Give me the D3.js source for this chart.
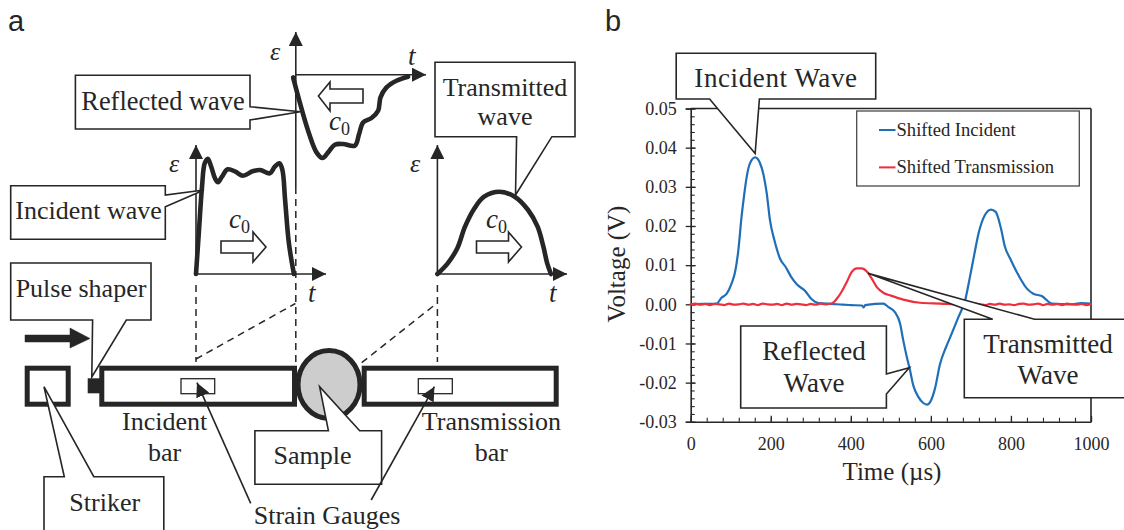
<!DOCTYPE html>
<html>
<head>
<meta charset="utf-8">
<script src="https://cdn.jsdelivr.net/npm/d3@7"></script>
<style>
  html, body { margin: 0; padding: 0; background: #fff; }
  svg { display: block; }
  text { font-family: "Liberation Serif", serif; fill: #262626; }
</style>
</head>
<body>
<svg width="1124" height="530"></svg>
<script>
// panel b readings
var incidentTime = [0, 30, 65, 77, 90, 102, 111, 119, 127, 134, 140, 148, 161, 173, 182, 190, 198, 209, 223, 238, 251, 265, 286, 301, 319, 352, 380, 400, 428, 432, 436, 460, 481, 494, 510, 523, 531, 540, 548, 556, 569, 581, 590, 600, 610, 623, 638, 652, 669, 686, 698, 708, 719, 735, 750, 762, 775, 785, 798, 819, 840, 856, 877, 902, 948, 975, 1000];
var incidentVolt = [0, 0.0001, 0.0002, 0.0017, 0.0027, 0.0053, 0.0083, 0.0138, 0.0223, 0.0283, 0.0326, 0.036, 0.0375, 0.0361, 0.033, 0.0283, 0.0215, 0.0164, 0.0117, 0.0094, 0.007, 0.0051, 0.0034, 0.0014, 0.0003, 0.0001, -0.0001, -0.0002, -0.0003, -0.0008, -0.0002, 0.0001, 0.0002, -0.0007, -0.002, -0.0049, -0.0092, -0.0135, -0.0169, -0.0207, -0.0237, -0.0252, -0.0256, -0.0246, -0.0216, -0.0152, -0.0109, -0.0075, -0.0032, 0.0012, 0.0072, 0.0125, 0.0181, 0.0228, 0.0242, 0.0236, 0.0194, 0.0147, 0.0117, 0.0074, 0.004, 0.0027, 0.0021, 0.0002, 0, 0.0003, 0.0002];
var transTime = [0, 12, 24, 36, 48, 60, 72, 84, 96, 108, 120, 132, 144, 156, 168, 180, 192, 204, 216, 228, 240, 252, 264, 276, 288, 300, 312, 324, 336, 345, 352, 365, 377, 390, 402, 415, 427, 440, 452, 465, 482, 498, 531, 573, 623, 673, 688, 700, 712, 724, 736, 748, 760, 772, 784, 796, 808, 820, 832, 844, 856, 868, 880, 892, 904, 916, 928, 940, 952, 964, 976, 988, 1000];
var transVolt = [0, 0.0002, -0.0001, 0.0001, -0.0002, 0.0001, 0, -0.0002, 0.0002, -0.0001, 0, 0.0002, -0.0001, 0.0001, -0.0002, 0.0002, 0, -0.0001, 0.0001, -0.0002, 0.0002, -0.0001, 0.0001, 0, -0.0002, 0.0001, -0.0001, 0.0002, 0, 0.0001, 0.0002, 0.0014, 0.0032, 0.0057, 0.0082, 0.0092, 0.0092, 0.0084, 0.0066, 0.0044, 0.0029, 0.0023, 0.0012, 0.0004, 0.0002, 0, 0.0001, -0.0001, 0.0002, 0, -0.0002, 0.0001, -0.0001, 0.0002, -0.0001, 0, -0.0002, 0.0001, 0.0002, -0.0001, 0, 0.0002, -0.0002, 0.0001, -0.0001, 0.0001, -0.0002, 0.0002, 0, -0.0001, 0.0001, -0.0002, 0.0001];
var xTicks = [0, 200, 400, 600, 800, 1000];
var yTicks = [-0.03, -0.02, -0.01, 0, 0.01, 0.02, 0.03, 0.04, 0.05];
var legendNames = ["Shifted Incident", "Shifted Transmission"];
var legendColors = ["#1f6fb8", "#ee2f3c"];

// panel a wave sketches, t and strain in sketch units
var waveInTime = [0, 3, 6, 8.7, 11.8, 15.2, 19, 22, 26, 31.7, 39.4, 47, 56.6, 64.2, 73.8, 78.8, 83.4, 86.4, 89.1, 92.9, 97.9];
var waveInStrain = [0, 44, 87, 110.7, 115.3, 107.3, 95.7, 91.7, 97.3, 104.7, 102.3, 98.3, 102.7, 104, 100.7, 107.3, 110.7, 104, 74, 30.7, 0];
var waveReTime = [-2.7, 4, 12.3, 20.7, 26.7, 32.3, 39, 47.3, 59, 63.3, 67.3, 75.7, 82.3, 84.7, 90.7, 100.7, 112.3];
var waveReStrain = [-2.7, -27.7, -56, -77.7, -83.3, -77.7, -70, -69.3, -71, -59.3, -47.7, -43.3, -36, -22.7, -12.7, -6, -2];
var waveTrTime = [0, 10.3, 19.9, 27.6, 37.1, 46.7, 62, 77.3, 90.7, 100.2, 106, 109.8, 113.6];
var waveTrStrain = [0, 10.7, 25.7, 47.3, 65.7, 77.3, 82.3, 77.3, 64, 47.3, 27.3, 10.7, 0];

var ink = "#262626";
var svg = d3.select("svg");
var g = svg.append("g");

g.append("defs").append("marker")
  .attr("id", "head")
  .attr("viewBox", "0 0 10 10").attr("refX", 10).attr("refY", 5)
  .attr("markerUnits", "userSpaceOnUse")
  .attr("markerWidth", 14).attr("markerHeight", 14)
  .attr("orient", "auto")
  .append("path").attr("d", "M0,0L10,5L0,10Z").attr("fill", ink);

function label(txt, x, y, size, anchor){
  return g.append("text").attr("x", x).attr("y", y)
    .attr("font-size", size)
    .attr("text-anchor", anchor || "middle")
    .text(txt);
}

function poly(pts, fill, width){
  return g.append("path")
    .attr("d", d3.line()(pts) + "Z")
    .attr("fill", fill || "#fff")
    .attr("stroke", ink)
    .attr("stroke-width", width || 1.6)
    .attr("stroke-linejoin", "miter");
}

function seg(x1, y1, x2, y2, width, dash){
  return g.append("line")
    .attr("x1", x1).attr("y1", y1).attr("x2", x2).attr("y2", y2)
    .attr("stroke", ink)
    .attr("stroke-width", width || 1.4)
    .attr("stroke-dasharray", dash || null);
}

function curve(t, v, x, y, color, width, gen){
  var line = d3.line()
    .x(i => x(t[i]))
    .y(i => y(v[i]))
    .curve(gen || d3.curveMonotoneX);
  return g.append("path")
    .attr("d", line(d3.range(t.length)))
    .attr("fill", "none")
    .attr("stroke", color)
    .attr("stroke-width", width)
    .attr("stroke-linejoin", "round")
    .attr("stroke-linecap", "round");
}

// ---------- panel a ----------
g.append("text").attr("x", 8).attr("y", 31).attr("font-size", 29)
  .style("font-family", "'Liberation Sans', sans-serif").text("a");
g.append("text").attr("x", 605).attr("y", 31).attr("font-size", 29)
  .style("font-family", "'Liberation Sans', sans-serif").text("b");

// dashed guides
var dash = "7 5";
seg(196, 285, 196, 362, 1.5, dash);
seg(295.8, 187, 295.8, 366, 1.5, dash);
seg(437.4, 285, 437.4, 362, 1.5, dash);
seg(196, 359, 295.4, 303.5, 1.5, dash);
seg(361.7, 362.7, 436.5, 303.5, 1.5, dash);

function sketch(ox, oy, t, e, up, right, bottom){
  var x = d3.scaleLinear().domain([0, 100]).range([ox, ox + 100]);
  var y = d3.scaleLinear().domain([0, 100]).range([oy, oy - 100]);
  g.append("line").attr("x1", ox).attr("y1", bottom).attr("x2", ox).attr("y2", up)
    .attr("stroke", ink).attr("stroke-width", 1.6).attr("marker-end", "url(#head)");
  g.append("line").attr("x1", ox).attr("y1", oy).attr("x2", right).attr("y2", oy)
    .attr("stroke", ink).attr("stroke-width", 1.6).attr("marker-end", "url(#head)");
  curve(t, e, x, y, ink, 4.6, d3.curveCatmullRom.alpha(0.5));
}
sketch(196, 274, waveInTime, waveInStrain, 145, 326, 274);
sketch(295.8, 74.7, waveReTime, waveReStrain, 32, 426, 187);
sketch(437.4, 274, waveTrTime, waveTrStrain, 145, 567, 274);

function italic(txt, x, y, size){
  return label(txt, x, y, size, "start").style("font-style", "italic");
}
italic("\u03b5", 169, 172, 26);
italic("\u03b5", 270, 60, 26);
italic("\u03b5", 410, 172, 26);
italic("t", 408, 65, 27);
italic("t", 308, 302, 27);
italic("t", 549, 302, 27);

function c0(x, y){
  var t = g.append("text").attr("x", x).attr("y", y).attr("font-size", 27);
  t.append("tspan").style("font-style", "italic").text("c");
  t.append("tspan").attr("font-size", 18).attr("dy", 5).text("0");
}
c0(229, 228);
c0(329, 130);
c0(486, 228);

function hollowRight(x){
  poly([[x, 241], [x + 32, 241], [x + 32, 232], [x + 45, 247], [x + 32, 262], [x + 32, 253], [x, 253]]);
}
hollowRight(221);
hollowRight(476.5);
poly([[318.4, 96], [330, 82], [330, 89], [363, 89], [363, 103], [330, 103], [330, 111]]);

// striker arrow
poly([[25, 335], [70, 335], [70, 328], [90, 338.5], [70, 348], [70, 342], [25, 342]], ink, 0.5);

// bars
function bar(x, y, w, h){
  g.append("rect").attr("x", x).attr("y", y).attr("width", w).attr("height", h)
    .attr("fill", "#fff").attr("stroke", ink).attr("stroke-width", 5);
}
bar(27.2, 368.2, 41, 36);
bar(101.8, 368.2, 192.7, 36);
bar(364.2, 368.2, 192, 36);
g.append("rect").attr("x", 87.7).attr("y", 378.3).attr("width", 13).attr("height", 15).attr("fill", ink);
g.append("ellipse").attr("cx", 329).attr("cy", 384.5).attr("rx", 31).attr("ry", 34)
  .attr("fill", "#cdcdcd").attr("stroke", ink).attr("stroke-width", 5);
g.append("rect").attr("x", 181).attr("y", 378.7).attr("width", 33.7).attr("height", 15)
  .attr("fill", "#fff").attr("stroke", ink).attr("stroke-width", 1.3);
g.append("rect").attr("x", 418.3).attr("y", 378.7).attr("width", 34).attr("height", 15)
  .attr("fill", "#fff").attr("stroke", ink).attr("stroke-width", 1.3);

// callouts of panel a
poly([[75.4, 75.3], [250, 75.3], [250, 106.7], [300.4, 111.7], [250, 120], [250, 129], [75.4, 129]]);
label("Reflected wave", 163, 110, 26.4);
poly([[10.7, 185.7], [165.3, 185.7], [165.3, 195], [204, 190], [165.3, 206.7], [165.3, 239.3], [10.7, 239.3]]);
label("Incident wave", 88.5, 219.3, 26);
poly([[435, 62.3], [575, 62.3], [575, 136.7], [551.9, 136.7], [515.5, 195], [516.6, 136.7], [435, 136.7]]);
label("Transmitted", 505, 96, 26);
label("wave", 505, 125, 26);
poly([[10.7, 263], [151, 263], [151, 320], [126.3, 320], [91.8, 377], [92.6, 320], [10.7, 320]]);
label("Pulse shaper", 81, 296.7, 26);
poly([[254.9, 430.7], [328.4, 430.7], [319.6, 386.7], [359.7, 430.7], [381.6, 430.7], [381.6, 484.3], [254.9, 484.3]]);
label("Sample", 312.5, 464, 26);
poly([[44, 476.7], [64.3, 476.7], [44, 386.7], [93.8, 476.7], [163.8, 476.7], [163.8, 532], [44, 532]]);
label("Striker", 104.7, 510.5, 26);

label("Incident", 164.6, 429.5, 26);
label("bar", 164.6, 460.7, 26);
label("Transmission", 491.4, 429.5, 26);
label("bar", 491.4, 460.7, 26);
label("Strain Gauges", 327, 524, 26);

g.append("line").attr("x1", 250.7).attr("y1", 503.3).attr("x2", 197).attr("y2", 382.7)
  .attr("stroke", ink).attr("stroke-width", 1.6).attr("marker-end", "url(#head)");
g.append("line").attr("x1", 371.2).attr("y1", 500).attr("x2", 434.4).attr("y2", 386.7)
  .attr("stroke", ink).attr("stroke-width", 1.6).attr("marker-end", "url(#head)");

// ---------- panel b ----------
var x = d3.scaleLinear().domain([0, 1000]).range([690.7, 1091]);
var y = d3.scaleLinear().domain([-0.03, 0.05]).range([421.8, 108.5]);

var xMinor = d3.range(0, 1001, 40);
var yMinor = d3.range(-15, 26).map(d => d * 0.002);

var minorX = g.append("g").attr("transform", "translate(0," + y(-0.03) + ")")
  .call(d3.axisTop(x).tickValues(xMinor).tickSize(4).tickFormat(""));
var minorY = g.append("g").attr("transform", "translate(" + x(0) + ",0)")
  .call(d3.axisRight(y).tickValues(yMinor).tickSize(4).tickFormat(""));
[minorX, minorY].forEach(a => {
  a.select(".domain").remove();
  a.selectAll("line").attr("stroke", ink).attr("stroke-width", 1.1);
});

var axisX = g.append("g").attr("transform", "translate(0," + y(-0.03) + ")")
  .call(d3.axisBottom(x).tickValues(xTicks).tickSize(0).tickPadding(15).tickFormat(d3.format("d")));
axisX.selectAll(".tick line").attr("y2", -6);
var axisY = g.append("g").attr("transform", "translate(" + x(0) + ",0)")
  .call(d3.axisLeft(y).tickValues(yTicks).tickSize(5).tickPadding(9).tickFormat(d3.format(".2f")));
axisY.selectAll(".tick line").attr("x2", 5).attr("x1", -5);
[axisX, axisY].forEach(a => {
  a.selectAll(".domain").attr("stroke", ink).attr("stroke-width", 1.6);
  a.selectAll("line").attr("stroke", ink).attr("stroke-width", 1.3);
  a.selectAll("text").attr("font-size", 18).attr("font-family", "'Liberation Serif', serif").attr("fill", ink);
});
// d3 renders a unicode minus, the reference has a hyphen
axisY.selectAll("text").text(d => d3.format(".2f")(d).replace("\u2212", "-"));

seg(x(0), y(0.05), x(1000), y(0.05), 1.6);
seg(x(1000), y(0.05), x(1000), y(-0.03), 1.6);

curve(incidentTime, incidentVolt, x, y, legendColors[0], 2.2);
curve(transTime, transVolt, x, y, legendColors[1], 2.2);

label("Time (\u00b5s)", 892, 480, 25);
g.append("text").attr("transform", "translate(625,264) rotate(-90)")
  .attr("text-anchor", "middle").attr("font-size", 25).text("Voltage (V)");

// legend
g.append("rect").attr("x", 856.7).attr("y", 111).attr("width", 222.6).attr("height", 75)
  .attr("fill", "#fff").attr("stroke", "#4a4a4a").attr("stroke-width", 1.3);
legendNames.forEach((name, i) => {
  var ly = 130 + i * 37.4;
  g.append("line").attr("x1", 879).attr("x2", 895.5).attr("y1", ly).attr("y2", ly)
    .attr("stroke", legendColors[i]).attr("stroke-width", 2);
  label(name, 896.5, ly + 5.7, 18.6, "start");
});

// callouts of panel b
poly([[676.2, 53.3], [875.7, 53.3], [875.7, 99], [759.4, 99], [x(161), y(0.0385)], [709.6, 99], [676.2, 99]]);
label("Incident Wave", 776, 87.3, 27).attr("letter-spacing", 0.6);
poly([[740.7, 326], [886.4, 326], [886.4, 374], [x(546), y(-0.0162)], [886.4, 394], [886.4, 408], [740.7, 408]]);
label("Reflected", 814, 360, 27);
label("Wave", 814, 392.3, 27);
poly([[964.3, 319.3], [992.7, 319.3], [x(443), y(0.0079)], [1034.5, 319.3], [1130, 319.3], [1130, 397.7], [964.3, 397.7]]);
label("Transmitted", 1048, 352.7, 27);
label("Wave", 1048, 384.3, 27);
</script>
</body>
</html>
